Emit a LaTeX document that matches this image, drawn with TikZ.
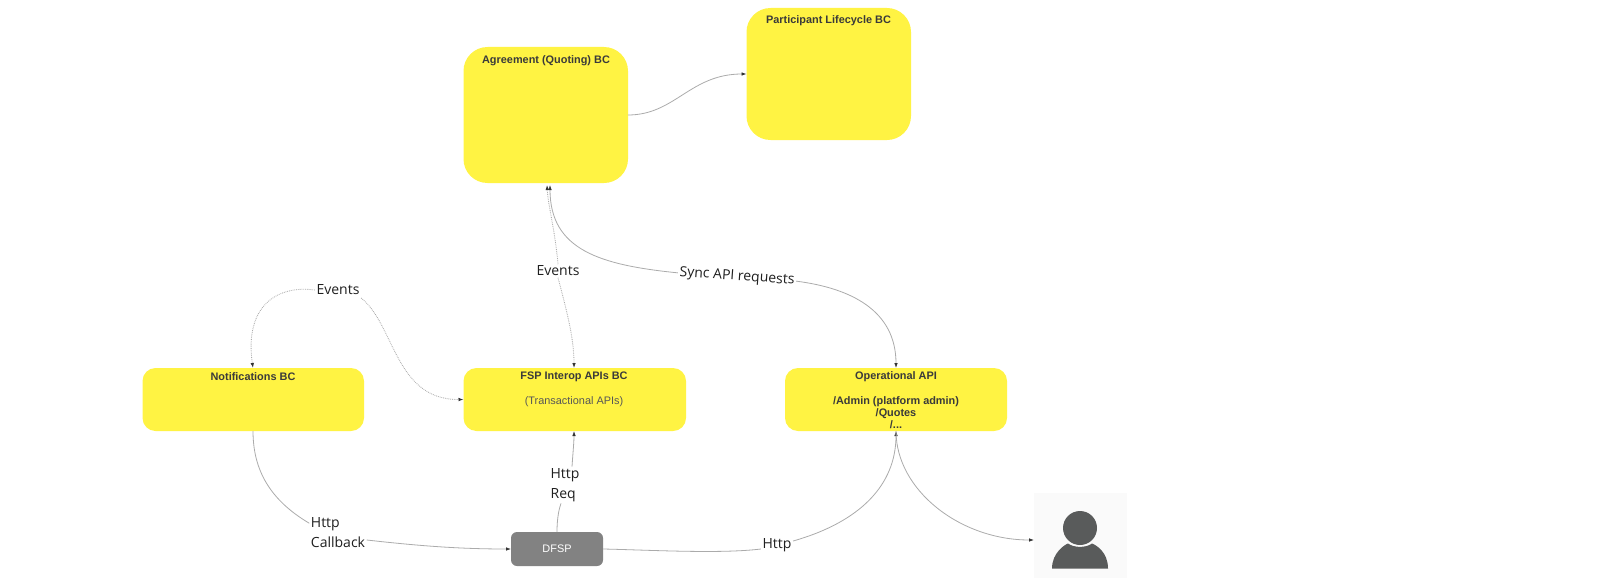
\documentclass[tikz,border=0pt]{standalone}
\usepackage{fontspec}
\setmainfont{Liberation Sans}
\newfontfamily\lblfont{Open Sans}
\usetikzlibrary{arrows.meta}
\definecolor{boxy}{HTML}{FFF343}
\definecolor{linegray}{HTML}{ABABAB}
\definecolor{boxtext}{HTML}{3A3A3A}
\definecolor{persongray}{HTML}{595B5B}
\tikzset{
  title/.style={font=\fontsize{10.9}{13}\selectfont\bfseries,text=boxtext,inner sep=0pt,align=center},
  sub/.style={font=\fontsize{10.9}{13}\selectfont,text=boxtext!85,inner sep=0pt,align=center},
  lbl/.style={font=\lblfont\fontsize{14}{20}\selectfont,text=black!88,fill=white,inner sep=1.5pt,align=left},
  conn/.style={draw=linegray,line width=0.8pt,-{Latex[length=5pt,width=3.6pt,black!80]}},
  plain/.style={draw=linegray,line width=0.8pt},
  dot/.style={densely dotted,line width=0.85pt}
}
\begin{document}
\begin{tikzpicture}[x=1pt,y=-1pt]
\useasboundingbox (0,0) rectangle (1600,578);
% boxes
\path[fill=boxy,rounded corners=24pt] (463.5,47) rectangle (628,183);
\coordinate (agr) at (546,183);
\coordinate (agrR) at (628,115);
\path[fill=boxy,rounded corners=24pt] (746.5,8) rectangle (911,140);
\coordinate (partL) at (746.5,74);
\path[fill=boxy,rounded corners=13pt] (142.5,368) rectangle (364,431);
\coordinate (notT) at (253,368);
\coordinate (notB) at (253,431);
\path[fill=boxy,rounded corners=13pt] (463.5,368) rectangle (686,431);
\coordinate (fspT) at (574,368);
\coordinate (fspB) at (574,431);
\coordinate (fspL) at (463.5,399.5);
\path[fill=boxy,rounded corners=13pt] (785,368) rectangle (1007,431);
\coordinate (opT) at (896,368);
\coordinate (opB) at (896,431);
\path[fill=black!49,rounded corners=6pt] (511,532) rectangle (603,566);
\coordinate (dfspL) at (511,549);
\coordinate (dfspR) at (603,549);
\coordinate (dfspT) at (557,532);
% user tile
\path[fill=black!2] (1034,493) rectangle (1127,578);
\coordinate (userL) at (1034,540);
\fill[persongray] (1080,528) circle (17pt);
\fill[persongray] (1052,568.5) .. controls (1052,552) and (1066,544) .. (1068,543.5) .. controls (1074,548) and (1086,548) .. (1092,543.5) .. controls (1096,545) and (1108,552) .. (1108,568.5) -- cycle;
% texts
\node[title] (t1) at (546,60.5) {Agreement (Quoting) BC};
\node[title] (t2) at (828.5,20.5) {Participant Lifecycle BC};
\node[title] (t3) at (253,377) {Notifications BC};
\node[title] (t4) at (574,377) {FSP Interop APIs BC};
\node[sub] (t5) at (574,402) {(Transactional APIs)};
\node[title] (t6) at (896,377) {Operational API};
\node[title] (t7) at (896,402) {/Admin (platform admin)};
\node[title] (t8) at (896,413.5) {/Quotes};
\node[title] (t9) at (896,425) {/...};
\node[font=\fontsize{10.9}{13}\selectfont,text=white,inner sep=0pt] (t10) at (557,548.5) {DFSP};
% labels
\node[lbl] (evA) at (558,271) {Events};
\node[lbl] (evN) at (338,290) {Events};
\node[lbl,rotate=-4] (sync) at (737,277) {Sync API requests};
\node[lbl] (cb) at (338,533) {Http\\Callback};
\node[lbl] (req) at (565,485) {Http\\Req};
\node[lbl] (http) at (777,545) {Http};
% connectors
\draw[conn] (agrR) .. controls (675,115) and (690,74) .. (partL);
\draw[conn,dot] (evA.south) .. controls (568,315) and (574,340) .. (fspT);
\draw[conn,dot] (evA.north) .. controls (555,230) and (548,205) .. (547,185);
\draw[conn] (sync.west) .. controls (600,265) and (550,250) .. (550,185);
\draw[conn] (sync.east) .. controls (850,288) and (896,310) .. (opT);
\draw[conn,dot] (evN.west) .. controls (278,285) and (244,305) .. (notT);
\draw[conn,dot] ([yshift=-8pt]evN.east) .. controls (395,325) and (395,400) .. (fspL);
\draw[plain] (notB) .. controls (253,470) and (270,500) .. ([yshift=-7pt]cb.north west);
\draw[conn] ([yshift=-7pt]cb.east) .. controls (420,546) and (460,549) .. (dfspL);
\draw[plain] (dfspT) .. controls (557,522) and (558,512) .. ([xshift=-4pt]req.south);
\draw[conn] ([xshift=7pt]req.north) .. controls (573,452) and (574,442) .. (fspB);
\draw[plain] (dfspR) .. controls (650,550) and (720,554) .. ([yshift=-4pt]http.west);
\draw[conn] ([yshift=4pt]http.east) .. controls (860,522) and (896,485) .. (opB);
\draw[conn] (opB) .. controls (896,490) and (960,540) .. (userL);
\end{tikzpicture}
\end{document}
